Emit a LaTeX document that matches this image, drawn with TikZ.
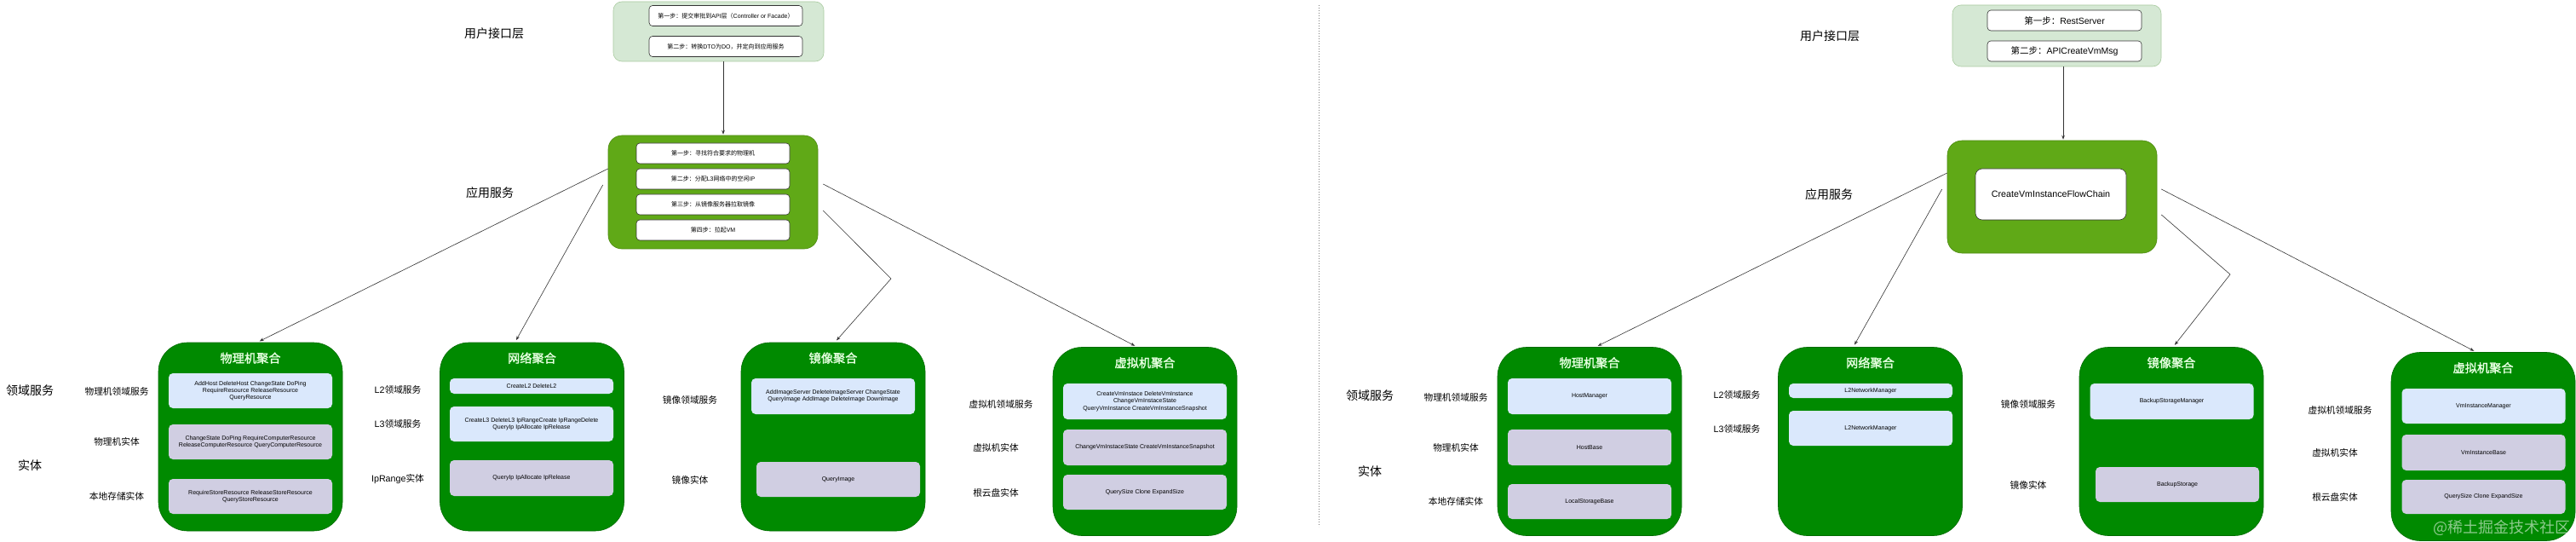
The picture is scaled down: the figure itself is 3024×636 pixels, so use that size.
\documentclass[tikz,border=0pt]{standalone}
\usepackage{fontspec}
\setmainfont{Liberation Sans}
\newfontfamily\cjk[AutoFakeBold=1.6]{Noto Sans CJK SC}
\usetikzlibrary{arrows.meta}

\definecolor{usergreen}{HTML}{D5E8D4}
\definecolor{userline}{HTML}{A9CBA0}
\definecolor{appgreen}{HTML}{60A917}
\definecolor{appline}{HTML}{4D8A12}
\definecolor{agggreen}{HTML}{008A00}
\definecolor{aggline}{HTML}{006B00}
\definecolor{svcblue}{HTML}{DAE8FC}
\definecolor{entlilac}{HTML}{D0CEE2}
\definecolor{titlegreen}{HTML}{E6FFE0}
\definecolor{linkgray}{HTML}{333333}

\begin{document}
\begin{tikzpicture}[x=1pt,y=-1pt,
  userbox/.style={draw=userline,fill=usergreen,rounded corners=10pt,line width=.6pt,inner sep=0pt},
  appbox/.style={draw=appline,fill=appgreen,rounded corners=16pt,line width=.6pt,inner sep=0pt},
  stepbox/.style={draw=linkgray,fill=white,rounded corners=4pt,line width=.6pt,inner sep=0pt,
    minimum width=180pt,minimum height=24pt,align=center,font=\fontsize{7}{8.3}\selectfont},
  aggbox/.style={draw=aggline,fill=agggreen,rounded corners=34pt,line width=.6pt,inner sep=0pt,
    minimum width=216pt,minimum height=221pt},
  aggtitle/.style={text=titlegreen,font=\cjk\bfseries\fontsize{14.2}{16}\selectfont},
  svcbox/.style={fill=svcblue,rounded corners=5pt,inner sep=0pt,minimum width=192pt,
    align=center,font=\fontsize{7}{8.3}\selectfont},
  entbox/.style={svcbox,fill=entlilac},
  layerlbl/.style={font=\cjk\fontsize{14}{16}\selectfont},
  sublbl/.style={font=\cjk\fontsize{10.7}{12}\selectfont},
  link/.style={draw=linkgray,line width=.6pt,-{Stealth[length=5pt,width=3.6pt]},shorten >=3pt},
  divider/.style={draw=gray,line width=1pt,dotted}]
  \fill[white] (0,0) rectangle (3024,636);
  \useasboundingbox (0,0) rectangle (3024,636);
  % Layer names on both halves.
  \foreach \x/\y/\t [count=\i] in {580/39/用户接口层,575/226/应用服务,35/458/领域服务,35/546/实体,
      2148/42/用户接口层,2147/228/应用服务,1608/464/领域服务,1608/553/实体} {
    \node[layerlbl] (layer\i) at (\x,\y) {\t};
  }
  \coordinate (divtop) at (1548,6);
  \coordinate (divbot) at (1548,618);
  \draw[divider] (divtop) -- (divbot);

  % Left half: user interface layer and application service.
  \node[userbox,minimum width=247pt,minimum height=70pt] (userL) at (843.5,37) {};
  \node[stepbox] (userL1) at (852,18.5) {{\cjk 第一步：提交审批到}API{\cjk 层（}Controller or Facade{\cjk ）}};
  \node[stepbox] (userL2) at (852,54.5) {{\cjk 第二步：转换}DTO{\cjk 为}DO{\cjk ，并定向到应用服务}};
  \node[appbox,minimum width=246pt,minimum height=133pt] (appL) at (837,225.5) {};
  \node[stepbox] (appL1) at (837,180) {{\cjk 第一步：寻找符合要求的物理机}};
  \node[stepbox] (appL2) at (837,210) {{\cjk 第二步：分配}L3{\cjk 网络中的空闲}IP};
  \node[stepbox] (appL3) at (837,240) {{\cjk 第三步：从镜像服务器拉取镜像}};
  \node[stepbox] (appL4) at (837,270) {{\cjk 第四步：拉起}VM};

  % Right half: user interface layer and application service.
  \node[userbox,minimum width=245pt,minimum height=72pt] (userR) at (2414.5,42) {};
  \node[stepbox,minimum width=181pt,font=\fontsize{10.5}{12}\selectfont] (userR1) at (2423.5,24) {{\cjk 第一步：}RestServer};
  \node[stepbox,minimum width=181pt,font=\fontsize{10.5}{12}\selectfont] (userR2) at (2423.5,60) {{\cjk 第二步：}APICreateVmMsg};
  \node[appbox,rounded corners=17pt,minimum width=246pt,minimum height=132pt] (appR) at (2409,231) {};
  \node[stepbox,rounded corners=8pt,minimum width=177pt,minimum height=60pt,
    font=\fontsize{10.7}{12}\selectfont] (appR1) at (2407.5,228) {CreateVmInstanceFlowChain};

  % Aggregates with their titles.
  \foreach \n/\x/\y/\t in {hostL/294/512.5/物理机聚合,netL/624.5/512.5/网络聚合,imgL/978/512.5/镜像聚合,
      vmL/1344/518/虚拟机聚合,hostR/1866/518/物理机聚合,netR/2195.5/518/网络聚合,
      imgR/2549/518/镜像聚合,vmR/2915/524/虚拟机聚合} {
    \node[aggbox] (\n) at (\x,\y) {};
    \node[aggtitle] (\n-t) at ([yshift=-18.5pt]\n.north) {\t};
  }

  % Left aggregates: domain services and entities.
  \node[svcbox,minimum height=41pt] (hostL1) at (294,458.5) {AddHost DeleteHost ChangeState DoPing\\RequireResource ReleaseResource\\QueryResource};
  \node[entbox,minimum height=41pt] (hostL2) at (294,518.5) {ChangeState DoPing RequireComputerResource\\ReleaseComputerResource QueryComputerResource};
  \node[entbox,minimum height=41pt] (hostL3) at (294,582.5) {RequireStoreResource ReleaseStoreResource\\QueryStoreResource};
  \node[svcbox,minimum height=18pt] (netL1) at (624,453) {CreateL2 DeleteL2};
  \node[svcbox,minimum height=41pt] (netL2) at (624,497.5) {CreateL3 DeleteL3 IpRangeCreate IpRangeDelete\\QueryIp IpAllocate IpRelease};
  \node[entbox,minimum height=42pt] (netL3) at (624,561) {QueryIp IpAllocate IpRelease};
  \node[svcbox,minimum height=42pt] (imgL1) at (978,465) {AddImageServer DeleteImageServer ChangeState\\QueryImage AddImage DeleteImage DownImage};
  \node[entbox,minimum height=41pt] (imgL2) at (984,562.5) {QueryImage};
  \node[svcbox,minimum height=42pt] (vmL1) at (1344,471) {CreateVmInstace DeleteVmInstance\\ChangeVmInstaceState\\QueryVmInstance CreateVmInstanceSnapshot};
  \node[entbox,minimum height=42pt] (vmL2) at (1344,525) {ChangeVmInstaceState CreateVmInstanceSnapshot};
  \node[entbox,minimum height=41pt] (vmL3) at (1344,577.5) {QuerySize Clone ExpandSize};

  % Right aggregates: the classes behind them.
  \node[svcbox,minimum height=42pt] (hostR1) at (1866,465) {HostManager};
  \node[entbox,minimum height=42pt] (hostR2) at (1866,525) {HostBase};
  \node[entbox,minimum height=41pt] (hostR3) at (1866,588.5) {LocalStorageBase};
  \node[svcbox,minimum height=17pt] (netR1) at (2196,458.5) {L2NetworkManager};
  \node[svcbox,minimum height=41pt] (netR2) at (2196,502.5) {L2NetworkManager};
  \node[svcbox,minimum height=42pt] (imgR1) at (2549.5,471) {BackupStorageManager};
  \node[entbox,minimum height=41pt] (imgR2) at (2556,568.5) {BackupStorage};
  \node[svcbox,minimum height=41pt] (vmR1) at (2915.5,476.5) {VmInstanceManager};
  \node[entbox,minimum height=42pt] (vmR2) at (2915.5,531) {VmInstanceBase};
  \node[entbox,minimum height=40pt] (vmR3) at (2915.5,583) {QuerySize Clone ExpandSize};

  % Row labels beside each aggregate.
  \foreach \x/\y/\t [count=\i] in {137/459/物理机领域服务,137/518/物理机实体,137/582/本地存储实体,
      467/457/{\rmfamily L2}领域服务,467/497/{\rmfamily L3}领域服务,467/562/{\rmfamily IpRange}实体,
      810/469/镜像领域服务,810/563/镜像实体,
      1175/474/虚拟机领域服务,1169/525/虚拟机实体,1169/578/根云盘实体,
      1709/466/物理机领域服务,1709/525/物理机实体,1709/588/本地存储实体,
      2039/463/{\rmfamily L2}领域服务,2039/503/{\rmfamily L3}领域服务,
      2381/474/镜像领域服务,2381/569/镜像实体,
      2747/481/虚拟机领域服务,2741/531/虚拟机实体,2741/583/根云盘实体} {
    \node[sublbl] (row\i) at (\x,\y) {\t};
  }

  % Calls from the application service down to the aggregates.
  \coordinate (bendL) at (1046,327);
  \coordinate (bendR) at (2618,322);
  \draw[link,shorten >=1pt] ([xshift=5.5pt]userL.south) -- ([xshift=12pt]appL.north);
  \draw[link] ([yshift=27.5pt]appL.west) -- ([xshift=8pt]hostL.north);
  \draw[link] ([xshift=-6pt,yshift=8.5pt]appL.west) -- ([xshift=-20pt]netL.north);
  \draw[link] ([xshift=6pt,yshift=-21.5pt]appL.east) -- (bendL) -- ([xshift=2pt]imgL.north);
  \draw[link] ([xshift=6pt,yshift=9.5pt]appL.east) -- ([xshift=-9pt]vmL.north);
  \draw[link,shorten >=1pt] ([xshift=7.5pt]userR.south) -- ([xshift=13pt]appR.north);
  \draw[link] ([yshift=28pt]appR.west) -- ([xshift=7pt]hostR.north);
  \draw[link] ([xshift=-6pt,yshift=9pt]appR.west) -- ([xshift=-20pt]netR.north);
  \draw[link] ([xshift=5pt,yshift=-21pt]appR.east) -- (bendR) -- ([xshift=2pt]imgR.north);
  \draw[link] ([xshift=5pt,yshift=9pt]appR.east) -- ([xshift=-8pt]vmR.north);

  \node[text=white,opacity=.55,font=\cjk\fontsize{18}{20}\selectfont] (mark) at (2937,619) {@稀土掘金技术社区};
\end{tikzpicture}
\end{document}
